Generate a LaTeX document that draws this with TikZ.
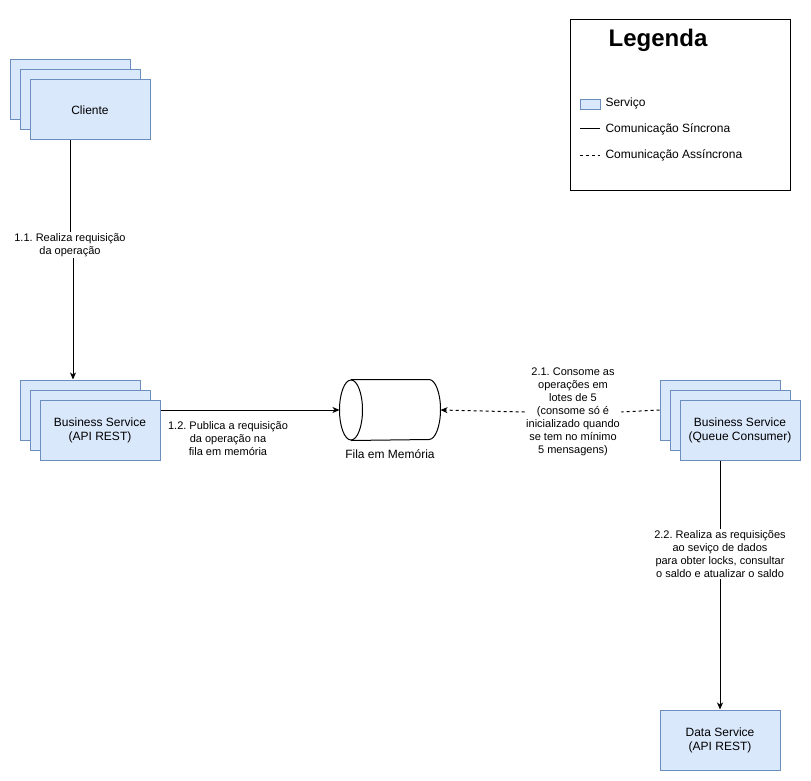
\documentclass[tikz,border=0pt]{standalone}
\usepackage{fontspec}
\setmainfont{Liberation Sans}
\usepackage{xcolor}
\usepackage{tikz}
\usetikzlibrary{shapes.geometric, arrows.meta}
\frenchspacing
\definecolor{servfill}{HTML}{DAE8FC}
\definecolor{servdraw}{HTML}{6C8EBF}
\tikzstyle{service} = [rectangle, minimum width=120pt, minimum height=60pt, inner sep=0pt, text centered, align=center, draw=servdraw, fill=servfill, font=\fontsize{12}{14}\selectfont]
\tikzstyle{queue} = [rectangle, minimum width=100pt, minimum height=60pt, inner sep=0pt]
\tikzstyle{edgelabel} = [fill=white, align=center, inner sep=1pt, font=\fontsize{11}{13}\selectfont]
\tikzstyle{legendtext} = [anchor=west, inner sep=0pt, font=\fontsize{12}{14}\selectfont]
\tikzstyle{arrow} = [-{Stealth[length=7pt, width=6pt, inset=2pt]}]
\tikzstyle{async} = [dashed]
\tikzstyle{asyncarrow} = [-{Stealth[length=7pt, width=6pt, inset=2pt]}, dashed]

\begin{document}
\begin{tikzpicture}[x=1pt, y=-1pt, line width=1pt]
\useasboundingbox (0,0) rectangle (811,781);

% legenda
\node (legend) [draw, minimum width=220pt, minimum height=170pt, inner sep=0pt] at (680,105) {};
\node (legtitle) [font=\fontsize{24}{28}\selectfont\bfseries] at (658,40) {Legenda};
\node (legserv) [draw=servdraw, fill=servfill, line width=0.8pt, minimum width=20pt, minimum height=10pt, inner sep=0pt] at (590,104) {};
\node (legservtxt) [legendtext] at (605,103) {Serviço};
\node (legsync) [legendtext] at (605,129) {Comunicação Síncrona};
\node (legasync) [legendtext] at (605,155) {Comunicação Assíncrona};
\draw ([xshift=-25pt]legsync.west) -- ([xshift=-5pt]legsync.west);
\draw [async] ([xshift=-25pt]legasync.west) -- ([xshift=-5pt]legasync.west);

% cliente
\node (cli3) [service] at (70,90) {};
\node (cli2) [service] at (80,100) {};
\node (cli) [service] at (90,110) {Cliente};

% business service (api rest)
\node (api3) [service] at (80,410) {};
\node (api2) [service] at (90,420) {};
\node (api) [service] at (100,430) {Business Service\\(API REST)};

% fila
\node (fila) [queue] at (390,410) {};
\draw [fill=white] ([xshift=11.5pt]fila.north west) -- ([xshift=-11.5pt]fila.north east)
  arc [start angle=90, end angle=-90, x radius=11.5pt, y radius=30pt] -- ([xshift=11.5pt]fila.south west);
\draw ([xshift=11.5pt]fila.west) ellipse [x radius=11.5pt, y radius=30pt];
\node (filatxt) [font=\fontsize{12}{14}\selectfont] at (390,454) {Fila em Memória};

% business service (queue consumer)
\node (cons3) [service] at (720,410) {};
\node (cons2) [service] at (730,420) {};
\node (cons) [service] at (740,430) {Business Service\\(Queue Consumer)};

% data service
\node (data) [service] at (720,740) {Data Service\\(API REST)};

% labels
\node (lbl11) [edgelabel] at (70,245) {1.1. Realiza requisição\\da operação};
\node (lbl12) [edgelabel] at (228,439) {1.2. Publica a requisição\\da operação na\\fila em memória};
\node (lbl21) [edgelabel] at (573,412) {2.1. Consome as\\operações em\\lotes de 5\\(consome só é\\inicializado quando\\se tem no mínimo\\5 mensagens)};
\node (lbl22) [edgelabel] at (720,554) {2.2. Realiza as requisições\\ao seviço de dados\\para obter locks, consultar\\o saldo e atualizar o saldo};

\draw (cli3.south |- cli.south) -- (lbl11.north);
\draw [arrow] ([xshift=3pt]lbl11.south) -- ([xshift=3pt]lbl11.south |- api3.north);
\draw [arrow] (api.east |- api3.east) -- (fila.west);
\draw [async] (cons3.west) -- (lbl21.east);
\draw [asyncarrow] (lbl21.west) -- (fila.east);
\draw (cons3.south |- cons.south) -- (lbl22.north);
\draw [arrow] (lbl22.south) -- (data.north);

\end{tikzpicture}
\end{document}
